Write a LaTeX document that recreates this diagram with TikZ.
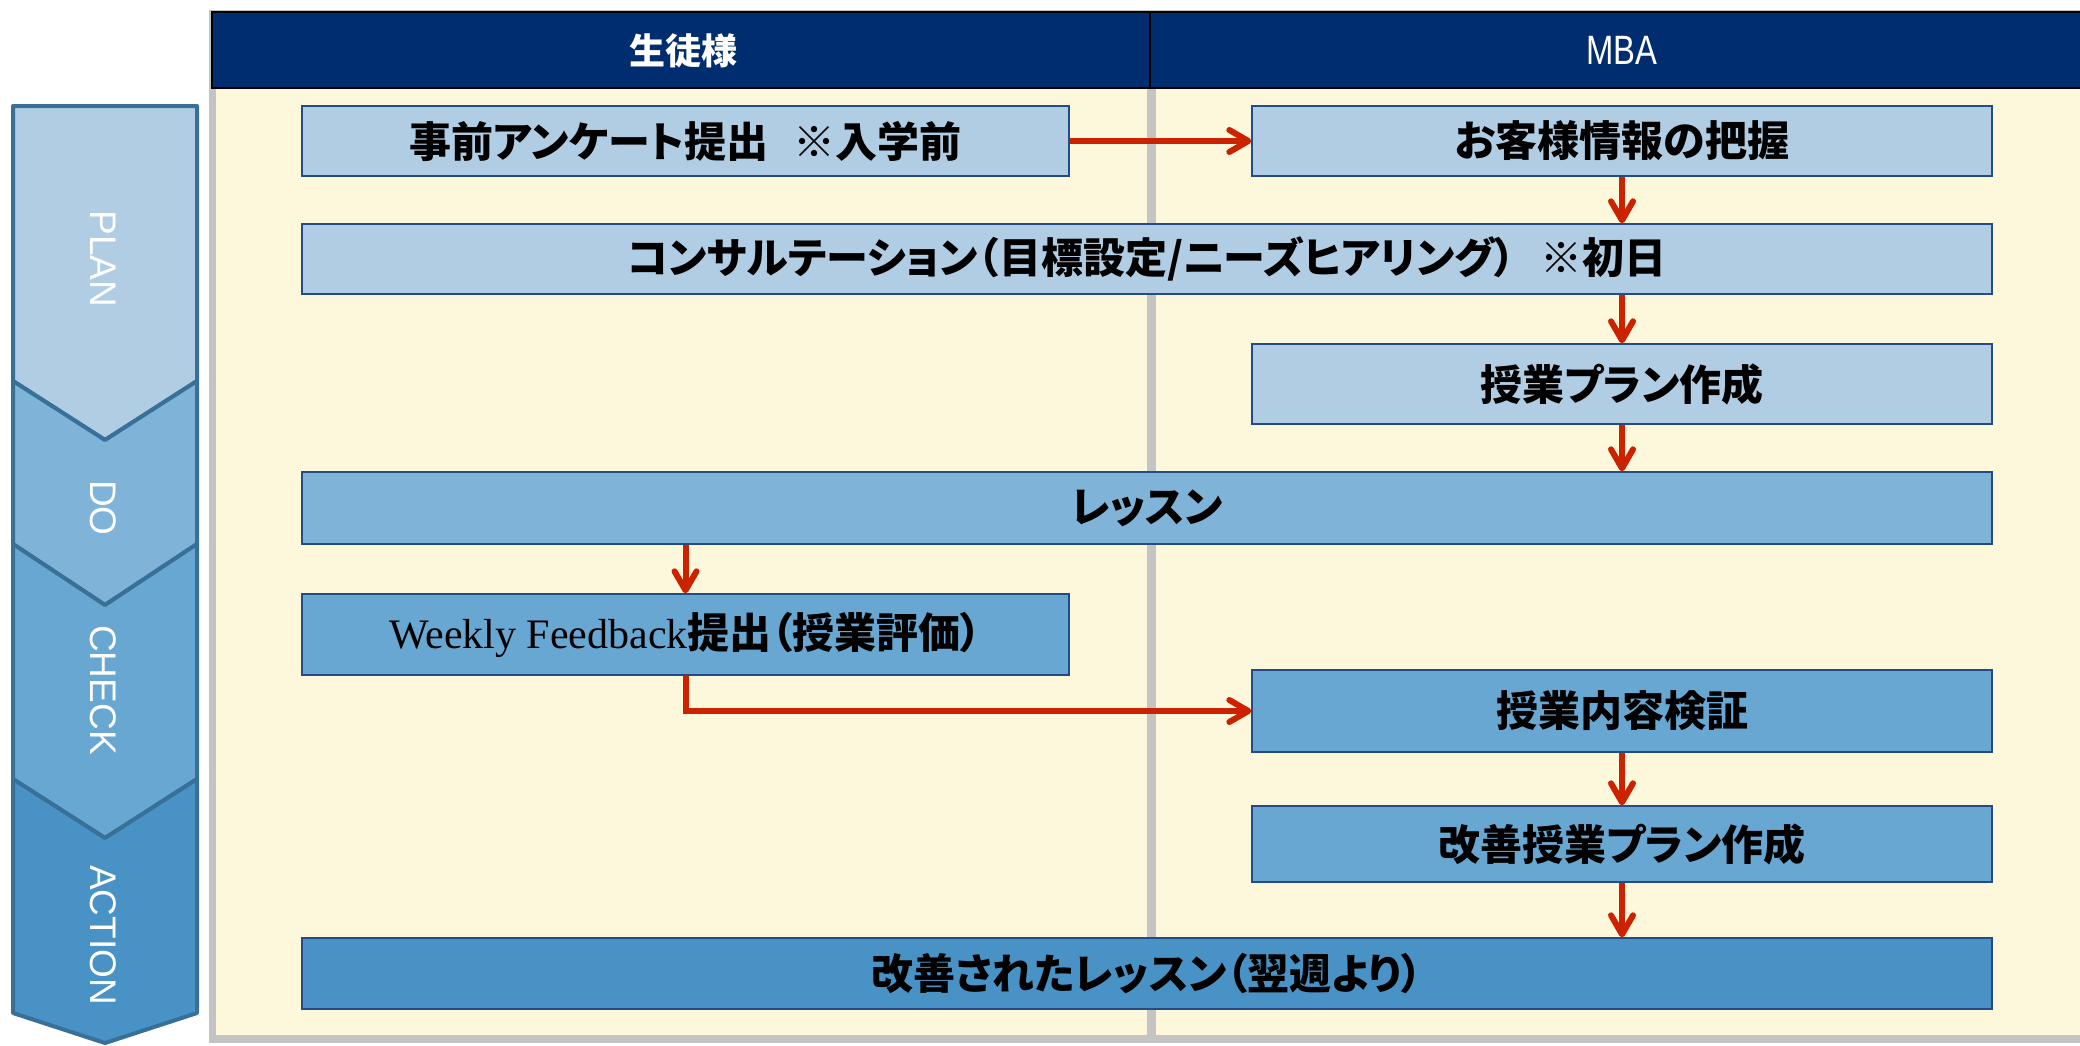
\documentclass[tikz,border=0pt]{standalone}
\usepackage{fontspec}
\usepackage{graphicx}
\setmainfont{Liberation Serif}
\setsansfont{Liberation Sans}
\newfontfamily\jp{Noto Sans CJK JP}[RawFeature={+palt}]
\usetikzlibrary{arrows.meta}
\definecolor{navy}{RGB}{0,45,112}
\definecolor{cream}{RGB}{253,248,220}
\definecolor{framegray}{RGB}{196,196,196}
\definecolor{boxline}{RGB}{35,75,135}
\definecolor{chevline}{RGB}{56,112,152}
\definecolor{cplan}{RGB}{176,205,228}
\definecolor{cdo}{RGB}{128,179,216}
\definecolor{ccheck}{RGB}{105,167,211}
\definecolor{cact}{RGB}{72,146,198}
\definecolor{flowred}{RGB}{204,34,0}
\newcommand\jpbox{\jp\bfseries\fontsize{21pt}{25pt}\selectfont}
\tikzset{
  stepbox/.style={draw=boxline, line width=0.7pt, inner sep=0pt, font=\jpbox, text=black, align=center},
  leftbox/.style={stepbox, minimum width=383.5pt},
  rightbox/.style={stepbox, minimum width=370pt},
  fullbox/.style={stepbox, minimum width=845pt},
  chev/.style={draw=chevline, line width=2pt, line join=round},
  chevlabel/.style={text=white, font=\sffamily\fontsize{18.5pt}{20pt}\selectfont, rotate=-90, inner sep=0pt},
  flow/.style={draw=flowred, line width=3pt, -{Straight Barb[length=9.5pt,width=11pt,round]}},
  headtext/.style={text=white, inner sep=0pt},
}
\begin{document}
\begin{tikzpicture}[x=0.5pt,y=-0.5pt]
\useasboundingbox (0,0) rectangle (2080,1045);
\fill[white] (0,0) rectangle (2080,1045);
% frame
\fill[framegray] (209,10) rectangle (2080,1043);
\fill[cream] (216,14) rectangle (2080,1035);
\fill[framegray] (1147,88) rectangle (1156,1035);
\filldraw[fill=navy, draw=black, line width=0.8pt] (212,12) rectangle (2082,88);
\draw[black, line width=0.8pt] (1150,12) -- (1150,88);
\node[headtext, font=\jp\bfseries\fontsize{18pt}{20pt}\selectfont] (h1) at (683,51) {生徒様};
\node[headtext, font=\sffamily\fontsize{20.5pt}{23pt}\selectfont] (h2) at (1622,50.5) {\scalebox{0.8}[1]{MBA}};
% chevrons
\draw[chev, fill=cplan] (13,106) -- (197,106) -- (197,381) -- (105,440) -- (13,381) -- cycle;
\draw[chev, fill=cdo] (13,381) -- (105,440) -- (197,381) -- (197,544) -- (105,605) -- (13,544) -- cycle;
\draw[chev, fill=ccheck] (13,544) -- (105,605) -- (197,544) -- (197,779) -- (105,838) -- (13,779) -- cycle;
\draw[chev, fill=cact] (13,779) -- (105,838) -- (197,779) -- (197,1013) -- (105,1043) -- (13,1013) -- cycle;
\node[chevlabel] (lplan) at (103,259) {PLAN};
\node[chevlabel] (ldo) at (103,508) {DO};
\node[chevlabel] (lcheck) at (103,690) {CHECK};
\node[chevlabel] (laction) at (103,935) {ACTION};
% boxes
\node[leftbox, fill=cplan, minimum height=35pt] (b1) at (685.5,141) {事前アンケート提出\hspace{0.6em}※入学前};
\node[rightbox, fill=cplan, minimum height=35pt] (b2) at (1622,141) {お客様情報の把握};
\node[fullbox, fill=cplan, minimum height=35pt] (b3) at (1147,259) {コンサルテーション（目標設定/ニーズヒアリング）\hspace{0.6em}※初日};
\node[rightbox, fill=cplan, minimum height=40pt] (b4) at (1622,384) {授業プラン作成};
\node[fullbox, fill=cdo, minimum height=36pt] (b5) at (1147,508) {レッスン};
\node[leftbox, fill=ccheck, minimum height=40.5pt] (b6) at (685.5,634.5) {{\rmfamily\mdseries Weekly Feedback}提出（授業評価）};
\node[rightbox, fill=ccheck, minimum height=41pt] (b7) at (1622,711) {授業内容検証};
\node[rightbox, fill=ccheck, minimum height=38pt] (b8) at (1622,844) {改善授業プラン作成};
\node[fullbox, fill=cact, minimum height=35.5pt] (b9) at (1147,973.5) {改善されたレッスン（翌週より）};
% connectors
\draw[flow] (b1.east) -- (b2.west);
\draw[flow] (b2.south) -- (b2.south |- b3.north);
\draw[flow] (b4.north |- b3.south) -- (b4.north);
\draw[flow] (b4.south) -- (b4.south |- b5.north);
\draw[flow] (b6.north |- b5.south) -- (b6.north);
\draw[flow] (b6.south) |- (b7.west);
\draw[flow] (b7.south) -- (b8.north);
\draw[flow] (b8.south) -- (b8.south |- b9.north);
\end{tikzpicture}
\end{document}
